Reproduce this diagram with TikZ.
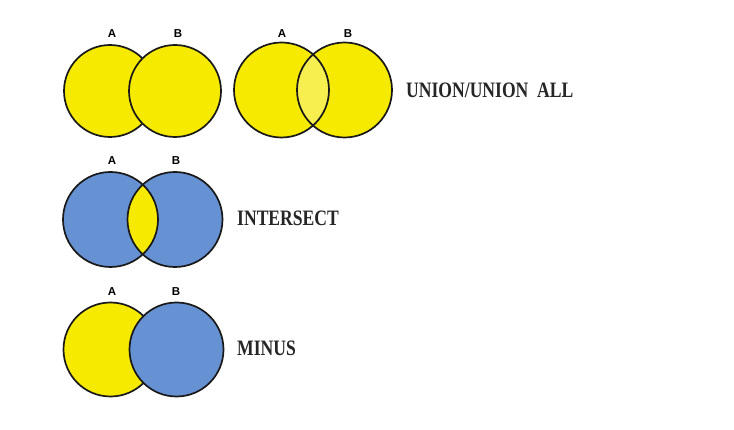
\documentclass[tikz,border=0pt]{standalone}
\usepackage{fontspec}
\usepackage{graphicx}
\setmainfont{Liberation Sans}
\newfontfamily\opfont{Liberation Serif}
\definecolor{setyellow}{RGB}{245,234,0}
\definecolor{lensyellow}{RGB}{247,238,80}
\definecolor{setblue}{RGB}{102,146,212}
\tikzset{
  setline/.style={draw=black!90,line width=1.7pt},
  setname/.style={font=\fontsize{11.5}{11.5}\selectfont\bfseries},
  opname/.style={anchor=west,inner sep=0pt,text=black!85,font=\fontsize{22}{22}\selectfont\opfont\bfseries}
}
\newcommand{\optext}[1]{\scalebox{0.8}[1]{#1}}
\begin{document}
\begin{tikzpicture}[x=1pt,y=-1pt]
\useasboundingbox[fill=white] (0,0) rectangle (734,430);
% union, B over A
\filldraw[setline,fill=setyellow] (110,91) circle[radius=46pt];
\filldraw[setline,fill=setyellow] (175,91) circle[radius=46pt];
\node[setname] (ua) at (112,34) {A};
\node[setname] (ub) at (178,34) {B};
% union all
\fill[setyellow] (281.5,90) circle[radius=47.5pt];
\fill[setyellow] (344.5,90) circle[radius=47.5pt];
\begin{scope}
\clip (281.5,90) circle[radius=47.5pt];
\fill[lensyellow] (344.5,90) circle[radius=47.5pt];
\end{scope}
\draw[setline] (281.5,90) circle[radius=47.5pt];
\draw[setline] (344.5,90) circle[radius=47.5pt];
\node[setname] (uaa) at (282,34) {A};
\node[setname] (uab) at (348,34) {B};
\node[opname] (union) at (406,90) {\optext{UNION/UNION\ \ ALL}};
% intersect
\fill[setblue] (110.5,219.5) circle[radius=47.5pt];
\fill[setblue] (175,219.5) circle[radius=47.5pt];
\begin{scope}
\clip (110.5,219.5) circle[radius=47.5pt];
\fill[setyellow] (175,219.5) circle[radius=47.5pt];
\end{scope}
\draw[setline] (110.5,219.5) circle[radius=47.5pt];
\draw[setline] (175,219.5) circle[radius=47.5pt];
\node[setname] (ia) at (112,161) {A};
\node[setname] (ib) at (176,161) {B};
\node[opname] (intersect) at (237,218) {\optext{INTERSECT}};
% minus
\filldraw[setline,fill=setyellow] (110.5,349.5) circle[radius=47pt];
\filldraw[setline,fill=setblue] (176.5,349.5) circle[radius=47pt];
\node[setname] (ma) at (112,292) {A};
\node[setname] (mb) at (176,292) {B};
\node[opname] (minus) at (237,348) {\optext{MINUS}};
\end{tikzpicture}
\end{document}
